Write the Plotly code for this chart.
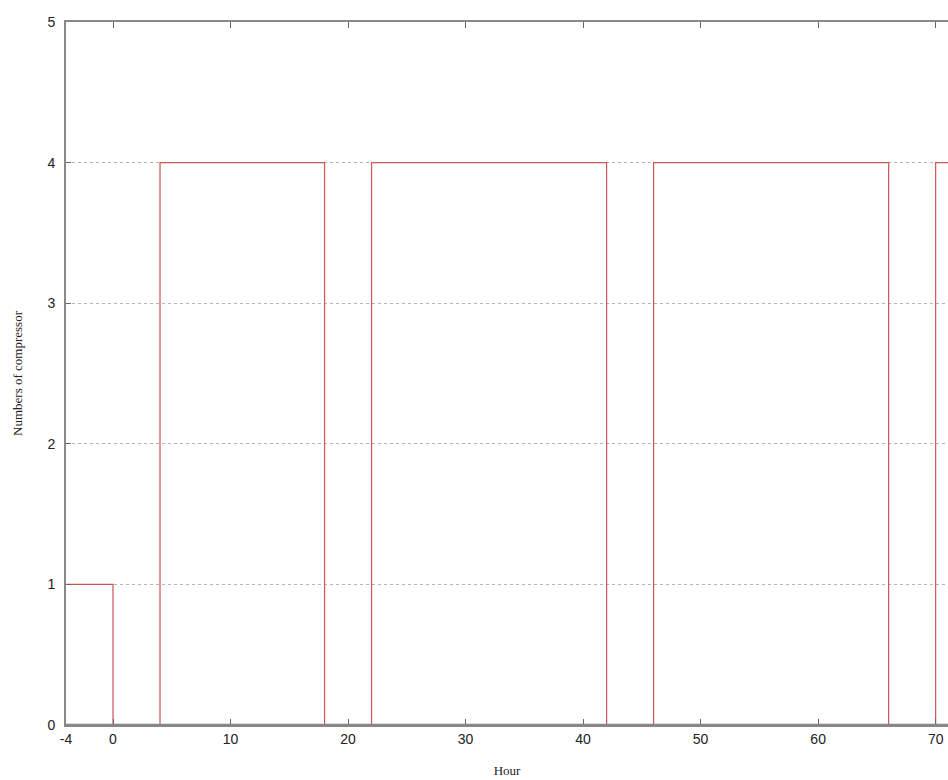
import plotly.graph_objects as go

hours = [-4, 0, 4, 18, 22, 42, 46, 66, 70, 72]
compressors = [1, 0, 4, 0, 4, 0, 4, 0, 4, 4]
x_ticks = [-4, 0, 10, 20, 30, 40, 50, 60, 70]
y_ticks = [0, 1, 2, 3, 4, 5]

fig = go.Figure()
fig.add_trace(go.Scatter(
    x=hours, y=compressors, mode="lines", line_shape="hv",
    line=dict(color="#cc5555", width=1.2), showlegend=False,
))

# bottom axis line drawn over the trace so the zero-level segments are hidden like in the original
fig.add_shape(type="line", xref="paper", yref="y", x0=0, x1=1, y0=0, y1=0,
              line=dict(color="#888", width=2.5), layer="above")

fig.update_layout(
    width=948, height=780,
    margin=dict(l=66, r=0, t=22, b=55),
    plot_bgcolor="white", paper_bgcolor="white",
    font=dict(family="Liberation Sans, Arial", size=14, color="#222"),
)
fig.update_xaxes(
    range=[-4, 71.05], tickvals=x_ticks, ticktext=[str(v) for v in x_ticks],
    showgrid=False, zeroline=False,
    showline=True, linecolor="#888", linewidth=2, mirror="ticks",
    ticks="inside", ticklen=6, tickcolor="#666", layer="above traces",
    title=dict(text="Hour", font=dict(family="Liberation Serif, Times New Roman", size=13), standoff=20),
)
fig.update_yaxes(
    range=[0, 5], tickvals=y_ticks,
    showgrid=True, gridcolor="#b5b5b5", griddash="dot", gridwidth=1,
    zeroline=False,
    showline=True, linecolor="#888", linewidth=2, ticklabelstandoff=6,
    ticks="inside", ticklen=5, tickcolor="#666", layer="above traces",
    title=dict(text="Numbers of compressor", font=dict(family="Liberation Serif, Times New Roman", size=13), standoff=22),
)

fig.write_html("out.html")
